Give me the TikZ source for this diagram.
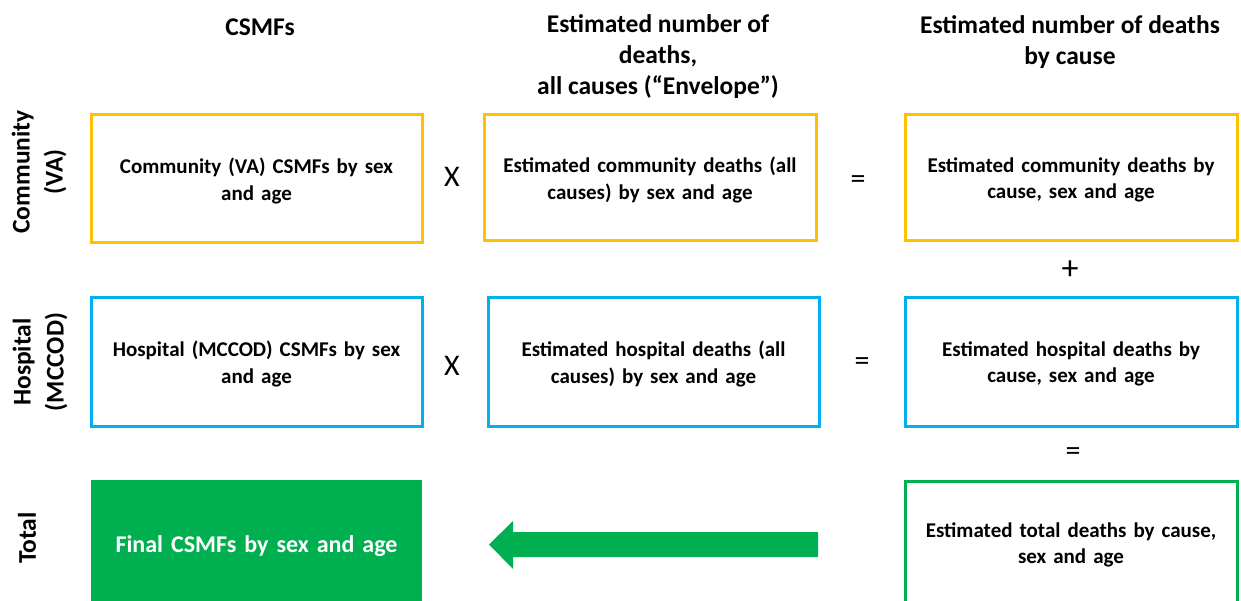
\documentclass[tikz,border=0pt]{standalone}
\usepackage{fontspec}
\setmainfont{Carlito}
\definecolor{cyell}{HTML}{FFC000}
\definecolor{cblue}{HTML}{00B0F0}
\definecolor{cgreen}{HTML}{00B050}
\begin{document}
\begin{tikzpicture}[x=1pt,y=-1pt,
  txt/.style={font=\fontsize{21}{26.5}\selectfont\bfseries, align=center, text width=320pt, inner sep=0pt},
  hdr/.style={font=\fontsize{25.5}{31}\selectfont\bfseries, align=center, inner sep=0pt},
  side/.style={font=\fontsize{25.5}{33}\selectfont\bfseries, align=center, inner sep=0pt, rotate=90},
  op/.style={font=\fontsize{30}{32}\selectfont, inner sep=0pt},
  ybox/.style={draw=cyell, line width=3pt},
  bbox/.style={draw=cblue, line width=3pt},
  gbox/.style={draw=cgreen, line width=3pt}]
\useasboundingbox (0,0) rectangle (1241,601);
% headers
\node[hdr] (h1) at (260,27) {CSMFs};
\node[hdr] (h2) at (658,57) {Estimated number of\\deaths,\\all causes (“Envelope”)};
\node[hdr] (h3) at (1070,42) {Estimated number of deaths\\by cause};
% row labels
\node[side] (r1) at (39,172) {Community\\(VA)};
\node[side] (r2) at (40,362) {Hospital\\(MCCOD)};
\node[side] (r3) at (27,538) {Total};
% row 1
\draw[ybox] (91,115) rectangle (422,243);
\node[txt] (a1) at (256.5,181) {Community (VA) CSMFs by sex\\and age};
\draw[ybox] (484,115) rectangle (816,241);
\node[txt] (a2) at (650,180) {Estimated community deaths (all\\causes) by sex and age};
\draw[ybox] (905,115) rectangle (1237,241);
\node[txt] (a3) at (1071,180) {Estimated community deaths by\\cause, sex and age};
% row 2
\draw[bbox] (91,298) rectangle (422,426);
\node[txt] (b1) at (256.5,364) {Hospital (MCCOD) CSMFs by sex\\and age};
\draw[bbox] (488,298) rectangle (819,426);
\node[txt] (b2) at (653.5,364) {Estimated hospital deaths (all\\causes) by sex and age};
\draw[bbox] (905,298) rectangle (1237,426);
\node[txt] (b3) at (1071,364) {Estimated hospital deaths by\\cause, sex and age};
% row 3
\fill[cgreen] (91,480) rectangle (422,620);
\node[txt, text=white, font=\fontsize{24}{26}\selectfont\bfseries] (c1) at (256.5,546) {Final CSMFs by sex and age};
\draw[gbox] (905,481) rectangle (1237,620);
\node[txt] (c3) at (1071,545) {Estimated total deaths by cause,\\sex and age};
% operators
\node[op] (x1) at (452,177) {X};
\node[op] (x2) at (452,366) {X};
\node[op] (e1) at (858,182.5) {=};
\node[op] (e2) at (862,364.5) {=};
\node[op, font=\fontsize{34}{36}\selectfont] (p1) at (1070,270) {+};
\node[op] (e3) at (1073,454) {=};
% arrow
\fill[cgreen] (818,532) -- (513,532) -- (513,521) -- (489,544.5) -- (513,569) -- (513,557) -- (818,557) -- cycle;
\end{tikzpicture}
\end{document}
